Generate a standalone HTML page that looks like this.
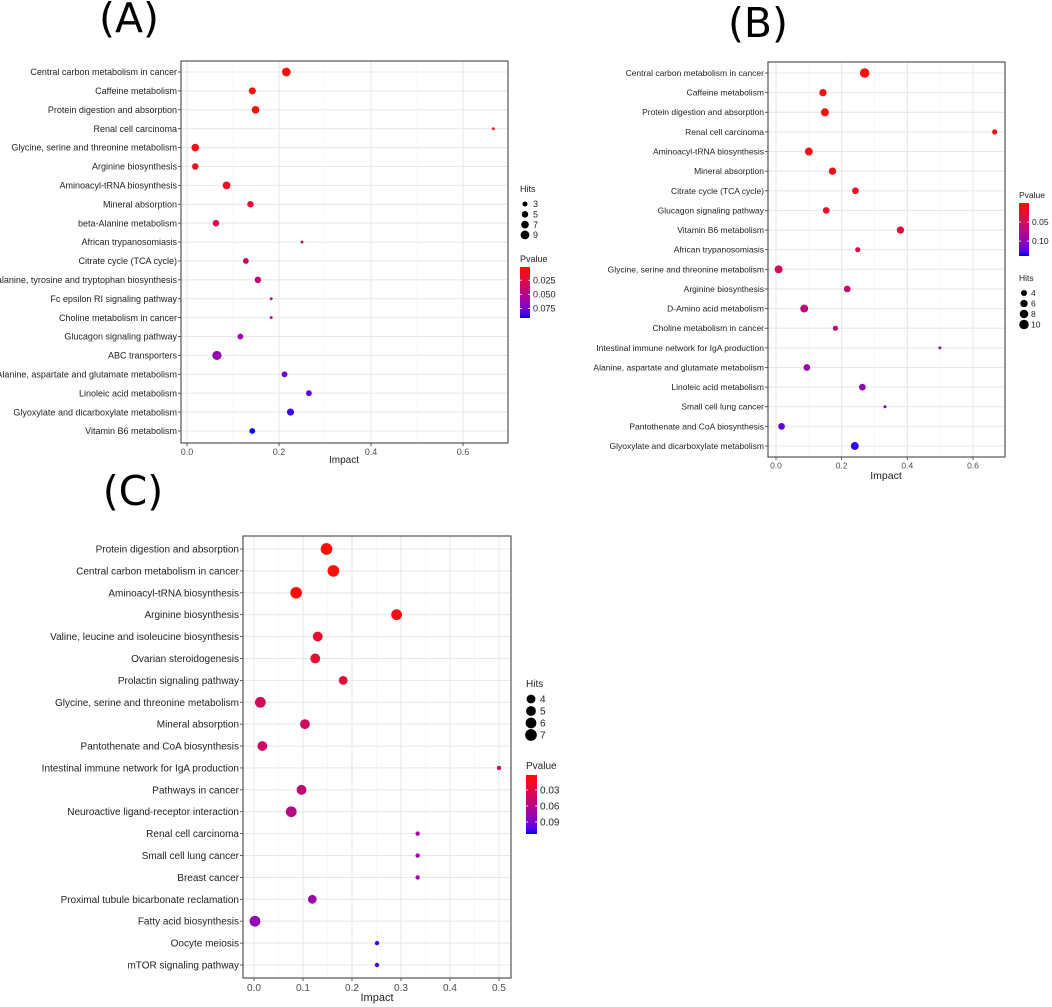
<!DOCTYPE html>
<html><head><meta charset="utf-8">
<style>
html,body{margin:0;padding:0;background:#fff;}
svg{display:block;font-family:"Liberation Sans",sans-serif;}
.ttl{font-family:"DejaVu Sans","Liberation Sans",sans-serif;font-size:41px;fill:#000;}
</style></head>
<body>
<svg id="fig" width="1052" height="1007" viewBox="0 0 1052 1007">
<text class="ttl" x="129" y="32" text-anchor="middle">(A)</text>
<text class="ttl" x="758" y="37" text-anchor="middle">(B)</text>
<text class="ttl" x="133" y="505" text-anchor="middle">(C)</text>
</svg>
<script>
// ---- Panel A data ----
const catsA = ["Central carbon metabolism in cancer","Caffeine metabolism","Protein digestion and absorption","Renal cell carcinoma","Glycine, serine and threonine metabolism","Arginine biosynthesis","Aminoacyl-tRNA biosynthesis","Mineral absorption","beta-Alanine metabolism","African trypanosomiasis","Citrate cycle (TCA cycle)","Phenylalanine, tyrosine and tryptophan biosynthesis","Fc epsilon RI signaling pathway","Choline metabolism in cancer","Glucagon signaling pathway","ABC transporters","Alanine, aspartate and glutamate metabolism","Linoleic acid metabolism","Glyoxylate and dicarboxylate metabolism","Vitamin B6 metabolism"];
const impactA = [0.216,0.142,0.149,0.666,0.018,0.018,0.086,0.138,0.063,0.250,0.128,0.154,0.183,0.183,0.116,0.065,0.212,0.265,0.225,0.142];
const hitsA = [9,6,7,1,7,5,7,5,5,1,4,5,1,1,4,10,4,4,6,4];
const pvalA = [0.002,0.003,0.004,0.006,0.010,0.012,0.016,0.022,0.030,0.035,0.038,0.042,0.050,0.052,0.060,0.065,0.078,0.082,0.088,0.092];
const xTicksA = [0,0.2,0.4,0.6];
const xTickLabA = ["0.0","0.2","0.4","0.6"];
const hitLegA = [3,5,7,9];
const pTicksA = [0.025,0.050,0.075];
const pTickLabA = ["0.025","0.050","0.075"];

// ---- Panel B data ----
const catsB = ["Central carbon metabolism in cancer","Caffeine metabolism","Protein digestion and absorption","Renal cell carcinoma","Aminoacyl-tRNA biosynthesis","Mineral absorption","Citrate cycle (TCA cycle)","Glucagon signaling pathway","Vitamin B6 metabolism","African trypanosomiasis","Glycine, serine and threonine metabolism","Arginine biosynthesis","D-Amino acid metabolism","Choline metabolism in cancer","Intestinal immune network for IgA production","Alanine, aspartate and glutamate metabolism","Linoleic acid metabolism","Small cell lung cancer","Pantothenate and CoA biosynthesis","Glyoxylate and dicarboxylate metabolism"];
const impactB = [0.270,0.143,0.149,0.666,0.100,0.172,0.242,0.153,0.379,0.249,0.008,0.217,0.086,0.181,0.499,0.094,0.263,0.332,0.017,0.240];
const hitsB = [10,6,7,3,7,6,5,5,6,3,7,5,7,3,1,5,5,1,5,7];
const pvalB = [0.003,0.005,0.007,0.010,0.012,0.015,0.020,0.025,0.032,0.040,0.050,0.060,0.065,0.070,0.075,0.095,0.100,0.110,0.125,0.135];
const xTicksB = [0,0.2,0.4,0.6];
const xTickLabB = ["0.0","0.2","0.4","0.6"];
const hitLegB = [4,6,8,10];
const pTicksB = [0.05,0.10];
const pTickLabB = ["0.05","0.10"];

// ---- Panel C data ----
const catsC = ["Protein digestion and absorption","Central carbon metabolism in cancer","Aminoacyl-tRNA biosynthesis","Arginine biosynthesis","Valine, leucine and isoleucine biosynthesis","Ovarian steroidogenesis","Prolactin signaling pathway","Glycine, serine and threonine metabolism","Mineral absorption","Pantothenate and CoA biosynthesis","Intestinal immune network for IgA production","Pathways in cancer","Neuroactive ligand-receptor interaction","Renal cell carcinoma","Small cell lung cancer","Breast cancer","Proximal tubule bicarbonate reclamation","Fatty acid biosynthesis","Oocyte meiosis","mTOR signaling pathway"];
const impactC = [0.148,0.162,0.086,0.291,0.130,0.125,0.182,0.013,0.104,0.017,0.500,0.097,0.076,0.334,0.334,0.334,0.119,0.002,0.251,0.251];
const hitsC = [7,7,7,6,5,5,4,6,5,5,1,5,6,1,1,1,4,6,1,1];
const pvalC = [0.003,0.004,0.006,0.010,0.020,0.025,0.030,0.040,0.042,0.045,0.048,0.055,0.060,0.070,0.072,0.074,0.075,0.080,0.105,0.106];
const xTicksC = [0,0.1,0.2,0.3,0.4,0.5];
const xTickLabC = ["0.0","0.1","0.2","0.3","0.4","0.5"];
const hitLegC = [4,5,6,7];
const pTicksC = [0.03,0.06,0.09];
const pTickLabC = ["0.03","0.06","0.09"];

const NS = "http://www.w3.org/2000/svg";
const svg = document.getElementById("fig");
function mk(tag, attrs, parent){
  const e = document.createElementNS(NS, tag);
  for (const k in attrs) e.setAttribute(k, attrs[k]);
  (parent||svg).appendChild(e);
  return e;
}
function colorFor(t){
  t = Math.max(0, Math.min(1, t));
  const r = Math.round(255*Math.pow(1-t,0.45));
  const g = Math.round(15*(1-t));
  const b = Math.round(255*Math.pow(t,1.0));
  return "rgb("+r+","+g+","+b+")";
}

function drawPanel(id, cats, impact, hits, pval, xTicks, xTickLab, hitLeg, pTicks, pTickLab, L) {
  const g = mk("g", {});
  
  
  const xs = v => L.x0 + v * (L.x1 - L.x0) / L.xv1;
  const ys = i => L.y0 + i * (L.yN - L.y0) / (cats.length - 1);
  const rs = h => L.rk * Math.sqrt(h);
  const pc = p => colorFor((p - L.pmin) / (L.pmax - L.pmin));
  const bg = mk("rect", {x:L.bx0, y:L.by0, width:L.bx1-L.bx0, height:L.by1-L.by0, fill:"#fff"}, g);
  
  
  const step = xTicks[1]-xTicks[0];
  for (let i = 0; i < xTicks.length; i++) {
    const mv = xTicks[i] + step/2;
    if (xs(mv) >= L.bx1) continue;
    const ml = mk("line", {x1:xs(mv), x2:xs(mv), y1:L.by0, y2:L.by1, stroke:"#f3f3f3", "stroke-width":0.6}, g);
    
    
  }
  xTicks.forEach((v, i) => {
    const gl = mk("line", {x1:xs(v), x2:xs(v), y1:L.by0, y2:L.by1, stroke:"#e8e8e8", "stroke-width":1.1}, g);
    
    
    const tk = mk("line", {x1:xs(v), x2:xs(v), y1:L.by1, y2:L.by1+3, stroke:"#333", "stroke-width":0.8}, g);
    
    
    const tl = mk("text", {x:xs(v), y:L.by1+L.tickFs+3, "font-size":L.tickFs, "text-anchor":"middle", fill:"#4d4d4d"}, g);
    tl.textContent = xTickLab[i];
    
    
  });
  cats.forEach((c, i) => {
    const y = ys(i);
    const gl = mk("line", {x1:L.bx0, x2:L.bx1, y1:y, y2:y, stroke:"#e8e8e8", "stroke-width":1.1}, g);
    
    
    const tk = mk("line", {x1:L.bx0-3, x2:L.bx0, y1:y, y2:y, stroke:"#333", "stroke-width":0.8}, g);
    
    
    const tl = mk("text", {x:L.bx0-4, y:y+L.labFs*0.35, "font-size":L.labFs, "text-anchor":"end", fill:"#222"}, g);
    tl.textContent = c;
    
    
  });
  const bd = mk("rect", {x:L.bx0, y:L.by0, width:L.bx1-L.bx0, height:L.by1-L.by0, fill:"none", stroke:"#555", "stroke-width":1.2}, g);
  
  
  cats.forEach((c, i) => {
    const pt = mk("circle", {cx:xs(impact[i]), cy:ys(i), r:rs(hits[i]), fill:pc(pval[i])}, g);
    
    
  });
  const xt = mk("text", {x:L.impX, y:L.impY, "font-size":L.impFs, "text-anchor":"middle", fill:"#222"}, g);
  xt.textContent = "Impact";
  
  
  const ht = mk("text", {x:L.hx, y:L.hy, "font-size":L.legFs, fill:"#222"}, g);
  ht.textContent = "Hits";
  
  
  hitLeg.forEach((h, i) => {
    const cy = L.hy + 12 + i * L.hstep;
    const d = mk("circle", {cx:L.hx+5, cy:cy, r:rs(h), fill:"#000"}, g);
    
    
    const t = mk("text", {x:L.hx+L.hlx, y:cy+L.legFs*0.35, "font-size":L.legFs, fill:"#222"}, g);
    t.textContent = h;
    
    
  });
  const pt = mk("text", {x:L.px, y:L.py, "font-size":L.legFs, fill:"#222"}, g);
  pt.textContent = "Pvalue";
  
  
  const gid = "grad" + id;
  const defs = mk("defs", {}, g);
  const lg = mk("linearGradient", {id:gid, x1:0, y1:0, x2:0, y2:1}, defs);
  for (let s = 0; s <= 10; s++) mk("stop", {offset:(s*10)+"%", "stop-color":colorFor(s/10)}, lg);
  const bar = mk("rect", {x:L.px, y:L.pb0, width:L.pw, height:L.pb1-L.pb0, fill:"url(#"+gid+")"}, g);
  
  
  const pys = p => L.pb0 + (p - L.pmin) / (L.pmax - L.pmin) * (L.pb1 - L.pb0);
  pTicks.forEach((p, i) => {
    mk("line", {x1:L.px, x2:L.px+2, y1:pys(p), y2:pys(p), stroke:"#fff", "stroke-width":0.8}, g);
    mk("line", {x1:L.px+L.pw-2, x2:L.px+L.pw, y1:pys(p), y2:pys(p), stroke:"#fff", "stroke-width":0.8}, g);
    const t = mk("text", {x:L.px+L.pw+3, y:pys(p)+L.legFs*0.35, "font-size":L.legFs, fill:"#222"}, g);
    t.textContent = pTickLab[i];
    
    
  });
}

drawPanel("a", catsA, impactA, hitsA, pvalA, xTicksA, xTickLabA, hitLegA, pTicksA, pTickLabA,
  {bx0:181, by0:61, bx1:508, by1:443, x0:187, x1:463, xv1:0.6, y0:72, yN:431, rk:1.45,
   pmin:0.0016, pmax:0.092, tickFs:9, labFs:9, impX:344, impY:463, impFs:10, legFs:9,
   hx:520, hy:192, hstep:10.3, hlx:13, px:520, py:262, pb0:267, pb1:318, pw:10});
drawPanel("b", catsB, impactB, hitsB, pvalB, xTicksB, xTickLabB, hitLegB, pTicksB, pTickLabB,
  {bx0:768, by0:62, bx1:1005, by1:457, x0:776, x1:973, xv1:0.6, y0:73, yN:446, rk:1.5,
   pmin:0, pmax:0.139, tickFs:8.5, labFs:8.5, impX:886, impY:479, impFs:10.5, legFs:8.5,
   hx:1019, hy:281, hstep:10.5, hlx:12, px:1019, py:198, pb0:203, pb1:256, pw:10});
drawPanel("c", catsC, impactC, hitsC, pvalC, xTicksC, xTickLabC, hitLegC, pTicksC, pTickLabC,
  {bx0:243, by0:536, bx1:511, by1:978, x0:254, x1:499, xv1:0.5, y0:549, yN:965, rk:2.2,
   pmin:0.002, pmax:0.1125, tickFs:10, labFs:10, impX:377, impY:1001, impFs:11, legFs:10,
   hx:526, hy:687, hstep:12, hlx:14, px:526, py:769, pb0:775, pb1:834, pw:11});
</script>
</body></html>
